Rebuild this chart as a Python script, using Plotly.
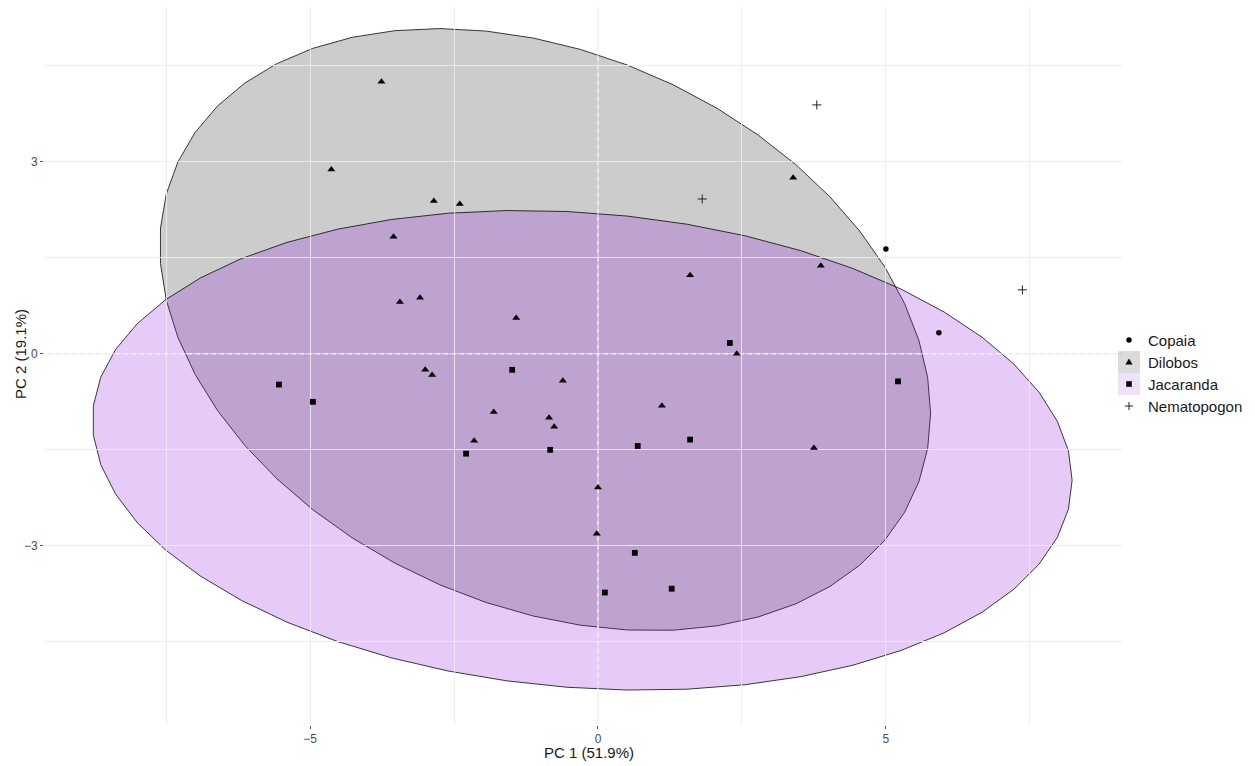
import numpy as np
import plotly.graph_objects as go

# ---------------- data ----------------
groups = ["Copaia", "Dilobos", "Jacaranda", "Nematopogon"]

copaia_pc1 = [5.00, 5.92]
copaia_pc2 = [1.64, 0.33]

dilobos_pc1 = [-3.76, -4.63, -2.85, -2.40, -3.55, -3.44, -3.09, -1.42, 1.60, 3.39,
               3.87, 2.41, -3.00, -2.88, -0.61, -1.81, -0.85, -0.76, -2.15, 1.11,
               3.75, 0.00, -0.02]
dilobos_pc2 = [4.25, 2.88, 2.39, 2.34, 1.83, 0.81, 0.875, 0.56, 1.23, 2.75,
               1.375, 0.00, -0.25, -0.33, -0.42, -0.91, -1.00, -1.14, -1.36, -0.81,
               -1.47, -2.09, -2.81]

jacaranda_pc1 = [-5.54, -4.95, -1.49, -2.29, -0.83, 2.29, 0.69, 1.60, 5.21, 0.64, 0.12, 1.28]
jacaranda_pc2 = [-0.48, -0.75, -0.25, -1.56, -1.50, 0.17, -1.44, -1.34, -0.43, -3.11, -3.73, -3.67]

nematopogon_pc1 = [3.80, 1.81, 7.37]
nematopogon_pc2 = [3.89, 2.42, 1.00]

x_tick_vals = [-5, 0, 5]
y_tick_vals = [-3, 0, 3]
x_grid_vals = [-7.5, -5, -2.5, 2.5, 5, 7.5]
y_grid_vals = [-4.5, -3, -1.5, 1.5, 3, 4.5]
x_title = "PC 1 (51.9%)"
y_title = "PC 2 (19.1%)"

# ---------------- style ----------------
W, H = 1255, 766
ML, MR, MT, MB = 44, 133, 7, 41
X_RANGE = [-9.62, 9.10]
Y_RANGE = [-5.80, 5.42]
FONT = "Liberation Sans, Arial, Helvetica, sans-serif"
GRID = "rgba(236,236,236,0.9)"

symbols = {"Copaia": "circle", "Dilobos": "triangle-up", "Jacaranda": "square", "Nematopogon": "cross-thin"}
sizes = {"Copaia": 5.5, "Dilobos": 7, "Jacaranda": 5.8, "Nematopogon": 6.5}
ellipse_fill = {"Dilobos": "rgba(0,0,0,0.2)", "Jacaranda": "rgba(140,20,225,0.22)"}
key_fill = {"Dilobos": "rgba(0,0,0,0.14)", "Jacaranda": "rgba(140,20,225,0.13)"}

data = {
    "Copaia": (copaia_pc1, copaia_pc2),
    "Dilobos": (dilobos_pc1, dilobos_pc2),
    "Jacaranda": (jacaranda_pc1, jacaranda_pc2),
    "Nematopogon": (nematopogon_pc1, nematopogon_pc2),
}


def norm_ellipse(x, y, level=0.95, segments=51):
    """Same construction as ggplot2 stat_ellipse(type = 'norm')."""
    pts = np.column_stack([x, y]).astype(float)
    n = len(pts)
    center = pts.mean(axis=0)
    shape = np.cov(pts, rowvar=False)
    dfn, dfd = 2, n - 1
    fq = dfd / 2.0 * ((1 - level) ** (-2.0 / dfd) - 1.0)  # qf(level, 2, dfd)
    radius = np.sqrt(dfn * fq)
    ang = np.arange(segments + 1) * 2 * np.pi / segments
    circle = np.column_stack([np.cos(ang), np.sin(ang)])
    upper = np.linalg.cholesky(shape).T
    return center + radius * circle @ upper


fig = go.Figure()
shapes = []

# ellipses (drawn below the grid, like the reference)
for g in ["Dilobos", "Jacaranda"]:
    ell = norm_ellipse(*data[g])
    path = "M " + " L ".join(f"{px:.4f},{py:.4f}" for px, py in ell) + " Z"
    shapes.append(dict(type="path", path=path, xref="x", yref="y", layer="below",
                       fillcolor=ellipse_fill[g], line=dict(color="rgba(0,0,0,0.85)", width=0.9)))

# dashed reference lines at 0
for kind in ["h", "v"]:
    if kind == "h":
        base = dict(x0=X_RANGE[0], x1=X_RANGE[1], y0=0, y1=0)
    else:
        base = dict(x0=0, x1=0, y0=Y_RANGE[0], y1=Y_RANGE[1])
    shapes.append(dict(type="line", xref="x", yref="y", layer="below",
                       line=dict(color="#E3E3E3", width=1), **base))
    shapes.append(dict(type="line", xref="x", yref="y", layer="below",
                       line=dict(color="rgba(255,255,255,0.9)", width=1, dash="4px,4px"), **base))

# points
for g in groups:
    xs, ys = data[g]
    marker = dict(symbol=symbols[g], size=sizes[g], color="black")
    if g == "Nematopogon":
        marker["line"] = dict(color="#222222", width=1)
    else:
        marker["line"] = dict(width=0)
    fig.add_trace(go.Scatter(x=xs, y=ys, mode="markers", name=g, marker=marker,
                             showlegend=False, hoverinfo="x+y+name"))

# ---------------- custom legend (ggplot-like keys) ----------------
PW = W - ML - MR
PH = H - MT - MB


def pxx(p):
    return (p - ML) / PW


def pxy(p):
    return (H - MB - p) / PH


legend_y = [340, 362, 384, 406]
key_cx = 1129
key_half = 11
annotations = []
for g, cy in zip(groups, legend_y):
    if g in key_fill:
        shapes.append(dict(type="rect", xref="paper", yref="paper", layer="above",
                           x0=pxx(key_cx - key_half), x1=pxx(key_cx + key_half),
                           y0=pxy(cy + key_half), y1=pxy(cy - key_half),
                           fillcolor=key_fill[g], line=dict(width=0)))
    common = dict(xref="paper", yref="paper", layer="above", xsizemode="pixel", ysizemode="pixel",
                  xanchor=pxx(key_cx), yanchor=pxy(cy))
    if g == "Copaia":
        shapes.append(dict(type="circle", x0=-2.7, x1=2.7, y0=-2.7, y1=2.7,
                           fillcolor="black", line=dict(width=0), **common))
    elif g == "Dilobos":
        shapes.append(dict(type="path", path="M -3.6,-2.4 L 3.6,-2.4 L 0,3.6 Z",
                           fillcolor="black", line=dict(width=0), **common))
    elif g == "Jacaranda":
        shapes.append(dict(type="rect", x0=-2.8, x1=2.8, y0=-2.8, y1=2.8,
                           fillcolor="black", line=dict(width=0), **common))
    else:
        shapes.append(dict(type="path", path="M -4,0 L 4,0 M 0,-4 L 0,4",
                           line=dict(color="#222222", width=1), **common))
    annotations.append(dict(text=g, xref="paper", yref="paper", x=pxx(1146), y=pxy(cy),
                            xanchor="left", yanchor="middle", showarrow=False,
                            font=dict(size=15, color="#1A1A1A", family=FONT)))

# axis titles
annotations.append(dict(text=x_title, xref="paper", yref="paper", x=pxx(589), y=pxy(752),
                        xanchor="center", yanchor="middle", showarrow=False,
                        font=dict(size=15, color="#1A1A1A", family=FONT)))
annotations.append(dict(text=y_title, xref="paper", yref="paper", x=pxx(20), y=pxy(354),
                        xanchor="center", yanchor="middle", showarrow=False, textangle=-90,
                        font=dict(size=15, color="#1A1A1A", family=FONT)))

axis_common = dict(showgrid=False, zeroline=False, showline=False, ticks="outside",
                   ticklen=3, tickwidth=1, tickcolor="#555555",
                   tickfont=dict(size=12, color="#4D4D4D", family=FONT))

fig.update_layout(
    width=W, height=H,
    margin=dict(l=ML, r=MR, t=MT, b=MB),
    plot_bgcolor="white", paper_bgcolor="white",
    showlegend=False,
    font=dict(family=FONT),
    xaxis=dict(range=X_RANGE, tickmode="array", tickvals=x_tick_vals,
               minor=dict(tickmode="array", tickvals=x_grid_vals, showgrid=True,
                          gridcolor=GRID, gridwidth=1, ticks=""),
               **axis_common),
    yaxis=dict(range=Y_RANGE, tickmode="array", tickvals=y_tick_vals,
               minor=dict(tickmode="array", tickvals=y_grid_vals, showgrid=True,
                          gridcolor=GRID, gridwidth=1, ticks=""),
               **axis_common),
    shapes=shapes,
    annotations=annotations,
)

fig.write_html("out.html", config={"displayModeBar": False},
               post_script="document.body.style.margin='0';document.body.style.overflow='hidden';")
